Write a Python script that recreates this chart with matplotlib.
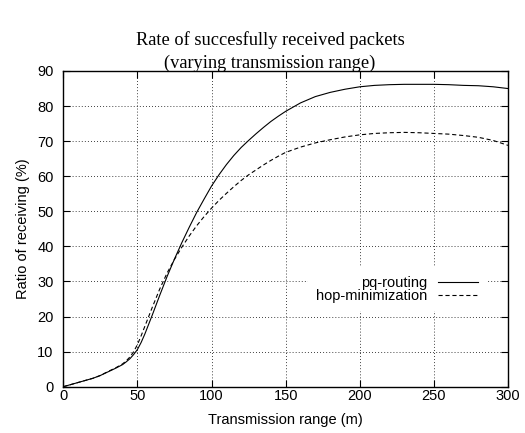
import matplotlib
matplotlib.use("Agg")
import matplotlib.pyplot as plt

x_range = [0, 5, 10, 15, 20, 25, 30, 35, 40, 42.5, 45, 47.5, 50, 52.5, 55, 57.5, 60, 65, 70,
           75, 80, 85, 90, 95, 100, 105, 110, 115, 120, 125, 130, 135, 140, 145, 150, 160,
           170, 180, 190, 200, 210, 220, 230, 240, 250, 260, 270, 280, 290, 300]
pq_routing = [0.0, 0.6, 1.2, 1.8, 2.4, 3.2, 4.2, 5.2, 6.3, 7.1, 8.0, 9.2, 10.6, 12.6, 15.0,
              17.7, 20.4, 26.0, 31.4, 36.4, 41.1, 45.5, 49.7, 53.5, 57.2, 60.4, 63.3, 65.9,
              68.2, 70.2, 72.1, 73.9, 75.6, 77.1, 78.5, 80.9, 82.7, 83.9, 84.8, 85.5, 85.9,
              86.1, 86.2, 86.2, 86.2, 86.1, 85.9, 85.8, 85.5, 85.0]
hop_minimization = [0.0, 0.6, 1.2, 1.8, 2.4, 3.2, 4.3, 5.3, 6.5, 7.4, 8.5, 10.0, 12.0, 14.5,
                    17.2, 19.9, 22.6, 27.8, 32.4, 36.3, 39.8, 43.0, 45.9, 48.5, 50.9, 53.1,
                    55.1, 57.0, 58.8, 60.4, 61.8, 63.2, 64.5, 65.7, 66.8, 68.3, 69.5, 70.4,
                    71.2, 71.8, 72.2, 72.4, 72.5, 72.4, 72.2, 72.0, 71.6, 71.1, 70.2, 68.8]
series_labels = ["pq-routing", "hop-minimization"]
x_ticks = [0, 50, 100, 150, 200, 250, 300]
y_ticks = [0, 10, 20, 30, 40, 50, 60, 70, 80, 90]

plt.rcParams['lines.scale_dashes'] = False
sans = ['Liberation Sans', 'DejaVu Sans']
serif = ['Liberation Serif', 'DejaVu Serif']
fs = 10.5

fig = plt.figure(figsize=(5.25, 4.33), dpi=100)
ax = fig.add_axes([63.3 / 525, (433 - 386.7) / 433, (508 - 63.3) / 525, (386.7 - 71) / 433])

ax.plot(x_range, pq_routing, color='black', lw=0.8, label=series_labels[0])
ax.plot(x_range, hop_minimization, color='black', lw=0.8, linestyle=(0, (3, 2)),
        label=series_labels[1])

ax.set_xlim(0, 300)
ax.set_ylim(0, 90)
ax.set_xticks(x_ticks)
ax.set_yticks(y_ticks)
ax.grid(True, color='black', linestyle=(0, (0.6, 1.6)), lw=0.6)
ax.tick_params(direction='in', length=5, width=0.8, top=True, right=True,
               labelsize=fs)
ax.tick_params(axis='x', pad=2)
ax.tick_params(axis='y', pad=7)
for lab in ax.get_xticklabels() + ax.get_yticklabels():
    lab.set_family(sans)
for sp in ax.spines.values():
    sp.set_linewidth(1.0)

ax.set_xlabel("Transmission range (m)", family=sans, fontsize=fs, labelpad=7)
ax.set_ylabel("Ratio of receiving (%)", family=sans, fontsize=fs, labelpad=5)

fig.text(270 / 525, 1 - 51.5 / 433,
         "Rate of succesfully received packets\n(varying transmission range)",
         ha='center', va='center', family=serif, fontsize=13.2, linespacing=1.45)

leg = ax.legend(loc='center right', bbox_to_anchor=(0.953, 0.309), markerfirst=False,
                prop={'family': sans, 'size': fs}, handlelength=2.8, handletextpad=0.68,
                labelspacing=-0.07, borderpad=0.6, frameon=True, fancybox=False,
                framealpha=1.0, borderaxespad=0)
leg.get_frame().set_edgecolor('none')
leg.get_frame().set_facecolor('white')

fig.savefig("out.png", dpi=100)
